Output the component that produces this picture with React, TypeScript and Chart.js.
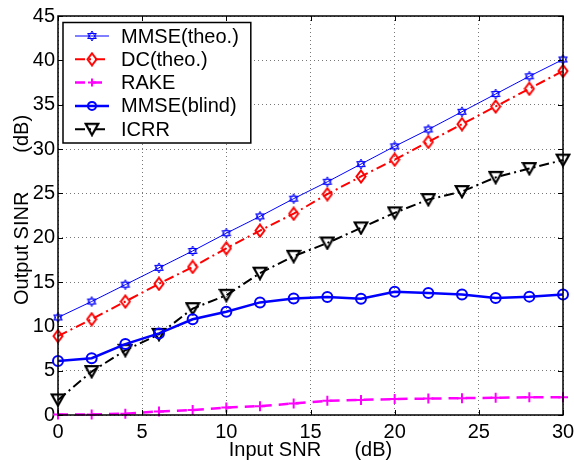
import { useEffect, useRef } from 'react';
import { Chart, registerables } from 'chart.js';

Chart.register(...registerables);

const inputSNR = [0, 2, 4, 6, 8, 10, 12, 14, 16, 18, 20, 22, 24, 26, 28, 30];
const mmseTheo = [11.0, 12.8, 14.7, 16.6, 18.5, 20.5, 22.4, 24.4, 26.3, 28.3, 30.3, 32.2, 34.2, 36.2, 38.2, 40.1];
const dcTheo = [8.9, 10.8, 12.8, 14.8, 16.7, 18.8, 20.8, 22.7, 24.9, 26.9, 28.8, 30.8, 32.8, 34.8, 36.8, 38.8];
const rake = [0.05, 0.05, 0.15, 0.4, 0.55, 0.85, 1.0, 1.3, 1.6, 1.7, 1.8, 1.85, 1.9, 1.95, 2.0, 2.0];
const mmseBlind = [6.1, 6.4, 8.0, 9.2, 10.8, 11.65, 12.7, 13.15, 13.3, 13.1, 13.9, 13.75, 13.6, 13.2, 13.35, 13.6];
const icrr = [1.7, 4.9, 7.3, 9.1, 12.0, 13.5, 16.0, 17.9, 19.4, 21.1, 22.8, 24.3, 25.2, 26.8, 27.8, 28.75];

const seriesLabels = ['MMSE(theo.)', 'DC(theo.)', 'RAKE', 'MMSE(blind)', 'ICRR'];
const xTitle = 'Input SNR      (dB)';
const yTitle = '  Output SINR       (dB)';

const FONT = '"Liberation Sans", Arial, Helvetica, sans-serif';
const FS = 20;

function makeMarker(w: number, h: number, draw: (ctx: CanvasRenderingContext2D) => void) {
  const c = document.createElement('canvas');
  c.width = w;
  c.height = h;
  const ctx = c.getContext('2d')!;
  draw(ctx);
  return c;
}

const hexagram = makeMarker(12, 12, (ctx) => {
  ctx.strokeStyle = '#0000ff';
  ctx.lineWidth = 1;
  const cx = 6, cy = 6, r = 5;
  for (const start of [-90, 90]) {
    ctx.beginPath();
    for (let i = 0; i < 3; i++) {
      const a = ((start + i * 120) * Math.PI) / 180;
      const px = cx + r * Math.cos(a);
      const py = cy + r * Math.sin(a);
      if (i === 0) ctx.moveTo(px, py);
      else ctx.lineTo(px, py);
    }
    ctx.closePath();
    ctx.stroke();
  }
});

const diamond = makeMarker(12, 15, (ctx) => {
  ctx.strokeStyle = '#ff0000';
  ctx.lineWidth = 2;
  ctx.beginPath();
  ctx.moveTo(6, 1.5);
  ctx.lineTo(10.5, 7.5);
  ctx.lineTo(6, 13.5);
  ctx.lineTo(1.5, 7.5);
  ctx.closePath();
  ctx.stroke();
});

const triDown = makeMarker(16, 15, (ctx) => {
  ctx.strokeStyle = '#000000';
  ctx.lineWidth = 2.2;
  ctx.lineJoin = 'miter';
  ctx.beginPath();
  ctx.moveTo(1.8, 2.2);
  ctx.lineTo(14.2, 2.2);
  ctx.lineTo(8, 13.2);
  ctx.closePath();
  ctx.stroke();
});

function pts(ys: number[]) {
  return inputSNR.map((x, i) => ({ x, y: ys[i] }));
}

function drawMarker(ctx: CanvasRenderingContext2D, ds: any, x: number, y: number) {
  const style = ds.pointStyle;
  ctx.save();
  ctx.setLineDash([]);
  if (style instanceof HTMLCanvasElement) {
    ctx.drawImage(style, x - style.width / 2, y - style.height / 2);
  } else if (style === 'circle') {
    ctx.beginPath();
    ctx.arc(x, y, ds.pointRadius - 1, 0, Math.PI * 2);
    ctx.strokeStyle = ds.pointBorderColor;
    ctx.lineWidth = ds.pointBorderWidth;
    ctx.stroke();
  } else if (style === 'cross') {
    const r = ds.pointRadius - 1;
    ctx.beginPath();
    ctx.moveTo(x - r, y);
    ctx.lineTo(x + r, y);
    ctx.moveTo(x, y - r);
    ctx.lineTo(x, y + r);
    ctx.strokeStyle = ds.pointBorderColor;
    ctx.lineWidth = ds.pointBorderWidth;
    ctx.stroke();
  }
  ctx.restore();
}

const framePlugin = {
  id: 'frameAndLegend',
  afterDraw(chart: any) {
    const { ctx, chartArea: a, scales } = chart;
    ctx.save();
    // inward ticks
    ctx.strokeStyle = '#000';
    ctx.lineWidth = 1;
    const tl = 5;
    ctx.beginPath();
    scales.x.ticks.forEach((t: any) => {
      const px = Math.round(scales.x.getPixelForValue(t.value)) + 0.5;
      ctx.moveTo(px, a.bottom);
      ctx.lineTo(px, a.bottom - tl);
      ctx.moveTo(px, a.top);
      ctx.lineTo(px, a.top + tl);
    });
    scales.y.ticks.forEach((t: any) => {
      const py = Math.round(scales.y.getPixelForValue(t.value)) + 0.5;
      ctx.moveTo(a.left, py);
      ctx.lineTo(a.left + tl, py);
      ctx.moveTo(a.right, py);
      ctx.lineTo(a.right - tl, py);
    });
    ctx.stroke();
    // frame
    ctx.lineWidth = 1.5;
    ctx.strokeRect(a.left, a.top, a.right - a.left, a.bottom - a.top);

    // legend
    ctx.font = FS + 'px ' + FONT;
    const dss = chart.data.datasets;
    const rowH = 23.3;
    const sampleLen = 34;
    const padL = 12;
    const gap = 12;
    const maxW = Math.max(...dss.map((d: any) => ctx.measureText(d.label).width));
    const x0 = a.left + 5;
    const y0 = a.top + 6.5;
    const w = padL + sampleLen + gap + maxW + 12;
    const h = rowH * dss.length + 4;
    ctx.fillStyle = '#fff';
    ctx.fillRect(x0, y0, w, h);
    ctx.lineWidth = 1.5;
    ctx.strokeStyle = '#000';
    ctx.strokeRect(x0, y0, w, h);
    dss.forEach((d: any, i: number) => {
      const cy = y0 + 13.5 + i * rowH;
      const sx = x0 + padL;
      ctx.save();
      ctx.beginPath();
      ctx.setLineDash(d.borderDash || []);
      ctx.lineWidth = d.borderWidth;
      ctx.strokeStyle = d.borderColor;
      ctx.moveTo(sx, cy);
      ctx.lineTo(sx + sampleLen, cy);
      ctx.stroke();
      ctx.restore();
      drawMarker(ctx, d, sx + sampleLen / 2, cy);
      ctx.fillStyle = '#000';
      ctx.textBaseline = 'middle';
      ctx.textAlign = 'left';
      ctx.fillText(d.label, sx + sampleLen + gap, cy + 1);
    });
    ctx.restore();
  },
};

export default function App() {
  const ref = useRef<HTMLCanvasElement>(null);
  useEffect(() => {
    const chart = new Chart(ref.current!, {
      type: 'line',
      data: {
        datasets: [
          {
            label: seriesLabels[0],
            data: pts(mmseTheo),
            borderColor: '#0000ff',
            borderWidth: 1,
            pointStyle: hexagram as any,
            pointRadius: 5,
            clip: false as any,
          },
          {
            label: seriesLabels[1],
            data: pts(dcTheo),
            borderColor: '#ff0000',
            borderWidth: 2,
            borderDash: [10, 4, 2, 4],
            pointStyle: diamond as any,
            pointRadius: 6,
            clip: false as any,
          },
          {
            label: seriesLabels[2],
            data: pts(rake),
            borderColor: '#ff00ff',
            borderWidth: 2.5,
            borderDash: [10, 7],
            pointStyle: 'cross',
            pointRadius: 5,
            pointBorderColor: '#ff00ff',
            pointBorderWidth: 2,
            clip: false as any,
          },
          {
            label: seriesLabels[3],
            data: pts(mmseBlind),
            borderColor: '#0000ff',
            borderWidth: 2.5,
            pointStyle: 'circle',
            pointRadius: 5,
            pointBorderColor: '#0000ff',
            pointBorderWidth: 2,
            pointBackgroundColor: 'rgba(0,0,0,0)',
            clip: false as any,
          },
          {
            label: seriesLabels[4],
            data: pts(icrr),
            borderColor: '#000000',
            borderWidth: 2,
            borderDash: [10, 4, 2, 4],
            pointStyle: triDown as any,
            pointRadius: 7,
            clip: false as any,
          },
        ],
      },
      options: {
        animation: false,
        responsive: false,
        devicePixelRatio: 1,
        layout: { padding: { left: 0, right: 11, top: 16, bottom: 0 } },
        plugins: { legend: { display: false }, tooltip: { enabled: false } },
        elements: { line: { tension: 0, fill: false }, point: { hoverRadius: 0 } },
        scales: {
          x: {
            type: 'linear',
            min: 0,
            max: 30,
            afterFit: (s: any) => {
              s.height = 45;
              s.paddingLeft = 0;
              s.paddingRight = 0;
            },
            ticks: {
              stepSize: 5,
              color: '#000',
              padding: 5,
              maxRotation: 0,
              font: { family: FONT, size: FS },
            },
            grid: { color: '#777', lineWidth: 1, drawTicks: false },
            border: { display: false, dash: [1, 3] },
            title: {
              display: true,
              text: xTitle,
              color: '#000',
              font: { family: FONT, size: FS },
              padding: { top: 0, bottom: -2 },
            },
          },
          y: {
            type: 'linear',
            min: 0,
            max: 45,
            afterFit: (s: any) => {
              s.width = 58;
              s.paddingTop = 0;
              s.paddingBottom = 0;
            },
            ticks: {
              stepSize: 5,
              color: '#000',
              padding: 3,
              font: { family: FONT, size: FS },
            },
            grid: { color: '#777', lineWidth: 1, drawTicks: false },
            border: { display: false, dash: [1, 3] },
            title: {
              display: true,
              text: yTitle,
              color: '#000',
              font: { family: FONT, size: FS },
              padding: { top: 10, bottom: 0 },
            },
          },
        },
      },
      plugins: [framePlugin],
    });
    return () => chart.destroy();
  }, []);
  return (
    <div style={{ position: 'fixed', left: 0, top: 0, width: 574, height: 460, background: '#fff' }}>
      <canvas ref={ref} width={574} height={460} />
    </div>
  );
}
